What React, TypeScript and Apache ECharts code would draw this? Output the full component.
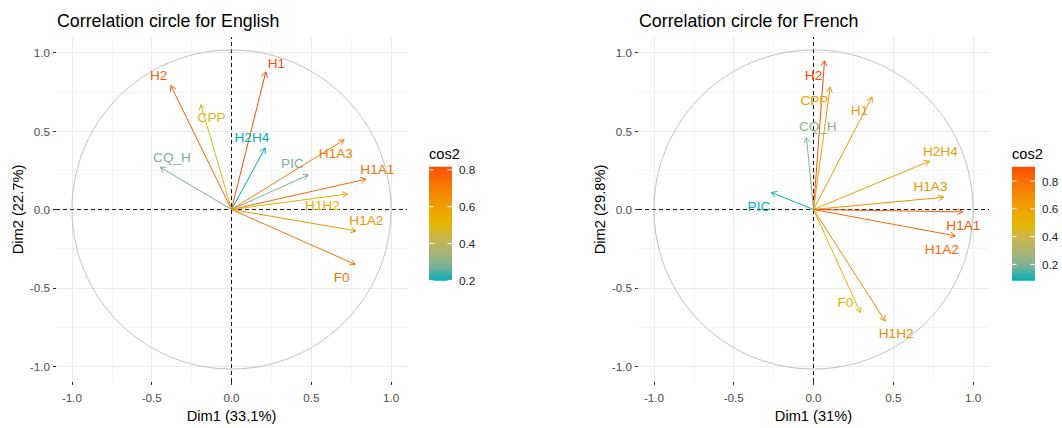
import React, { useEffect, useRef } from "react";
import * as echarts from "echarts";

// ---------- data ----------
const variables = ["H1", "H2", "CPP", "H2H4", "CQ_H", "PIC", "H1A3", "H1A1", "H1H2", "H1A2", "F0"];

// English: coordinates on Dim1 / Dim2
const enDim1 = [0.215, -0.38, -0.192, 0.211, -0.447, 0.481, 0.706, 0.842, 0.727, 0.78, 0.775];
const enDim2 = [0.878, 0.79, 0.669, 0.392, 0.27, 0.22, 0.444, 0.193, 0.099, -0.136, -0.35];
// English: label anchor (data units, as repelled in the picture)
const enLabelX = [0.282, -0.457, -0.125, 0.128, -0.373, 0.382, 0.654, 0.914, 0.57, 0.845, 0.691];
const enLabelY = [0.931, 0.852, 0.588, 0.456, 0.333, 0.291, 0.358, 0.254, 0.025, -0.073, -0.434];

// French: coordinates on Dim1 / Dim2
const frDim1 = [0.367, 0.069, 0.104, 0.727, -0.044, -0.265, 0.816, 0.935, 0.449, 0.889, 0.294];
const frDim2 = [0.717, 0.948, 0.78, 0.308, 0.459, 0.109, 0.078, -0.015, -0.711, -0.168, -0.658];
const frLabelX = [0.288, 0.0, 0.006, 0.795, 0.027, -0.342, 0.733, 0.939, 0.518, 0.804, 0.2];
const frLabelY = [0.633, 0.857, 0.696, 0.367, 0.532, 0.019, 0.145, -0.099, -0.79, -0.252, -0.591];

const titles = ["Correlation circle for English", "Correlation circle for French"];
const dim1Names = ["Dim1 (33.1%)", "Dim1 (31%)"];
const dim2Names = ["Dim2 (22.7%)", "Dim2 (29.8%)"];
const majorBreaks = [-1, -0.5, 0, 0.5, 1];
const minorBreaks = [-0.75, -0.25, 0.25, 0.75];
const legendTicks = [0.2, 0.4, 0.6, 0.8];

// ---------- styles ----------
const FONT = "'Liberation Sans', Arial, Helvetica, sans-serif";
const gradientColors = [
  "#00AFBB", "#7BB198", "#A8B474", "#CAB64D", "#E7B800",
  "#EEA200", "#F48A01", "#F86F04", "#FC4E07",
];

type Panel = {
  gridLeft: number;
  titleLeft: number;
  legendLeft: number;
  dim1: number[];
  dim2: number[];
  lx: number[];
  ly: number[];
};

const panels: Panel[] = [
  { gridLeft: 56, titleLeft: 57, legendLeft: 429, dim1: enDim1, dim2: enDim2, lx: enLabelX, ly: enLabelY },
  { gridLeft: 638, titleLeft: 639, legendLeft: 1012, dim1: frDim1, dim2: frDim2, lx: frLabelX, ly: frLabelY },
];

const GRID_TOP = 37;
const GRID_SIZE = 351;
const LEGEND_TOP = 166.7;
const LEGEND_H = 114;
const LEGEND_W = 23;

function buildOption() {
  const grid: any[] = [];
  const xAxis: any[] = [];
  const yAxis: any[] = [];
  const series: any[] = [];
  const visualMap: any[] = [];
  const title: any[] = [];
  const graphic: any[] = [];

  panels.forEach((p, i) => {
    grid.push({ left: p.gridLeft, top: GRID_TOP, width: GRID_SIZE, height: GRID_SIZE, containLabel: false });

    const axisCommon = {
      type: "value",
      gridIndex: i,
      min: -1.1,
      max: 1.1,
      splitLine: { show: false },
      axisLine: { show: false, onZero: false },
      axisTick: { show: true, customValues: majorBreaks, length: 3, lineStyle: { color: "#333333", width: 1 } },
      nameLocation: "middle",
      nameTextStyle: { fontSize: 14.67, color: "#000000", fontFamily: FONT },
    };
    xAxis.push({
      ...axisCommon,
      name: dim1Names[i],
      nameGap: 26,
      axisLabel: {
        customValues: majorBreaks,
        formatter: (v: number) => v.toFixed(1),
        color: "#4D4D4D",
        fontSize: 11.7,
        fontFamily: FONT,
        margin: 9,
      },
    });
    yAxis.push({
      ...axisCommon,
      name: dim2Names[i],
      nameGap: 31,
      nameRotate: 90,
      axisLabel: {
        customValues: majorBreaks,
        formatter: (v: number) => v.toFixed(1),
        color: "#4D4D4D",
        fontSize: 11.7,
        fontFamily: FONT,
        margin: 6,
      },
    });

    const majorStyle = { color: "#EBEBEB", width: 1.1, type: "solid" };
    const minorStyle = { color: "#F1F1F1", width: 0.7, type: "solid" };
    const dashStyle = { color: "#1A1A1A", width: 1, type: [4, 3] };
    const mlData: any[] = [];
    minorBreaks.forEach((v) => {
      mlData.push({ xAxis: v, lineStyle: minorStyle });
      mlData.push({ yAxis: v, lineStyle: minorStyle });
    });
    majorBreaks.forEach((v) => {
      mlData.push({ xAxis: v, lineStyle: majorStyle });
      mlData.push({ yAxis: v, lineStyle: majorStyle });
    });
    mlData.push({ xAxis: 0, lineStyle: dashStyle });
    mlData.push({ yAxis: 0, lineStyle: dashStyle });

    // background grid + reference dashed lines
    series.push({
      type: "scatter",
      xAxisIndex: i,
      yAxisIndex: i,
      data: [],
      silent: true,
      markLine: {
        silent: true,
        symbol: ["none", "none"],
        label: { show: false },
        emphasis: { disabled: true },
        animation: false,
        data: mlData,
      },
    });

    // unit circle
    series.push({
      type: "custom",
      xAxisIndex: i,
      yAxisIndex: i,
      silent: true,
      z: 8,
      data: [[0, 0]],
      renderItem: (_params: any, api: any) => {
        const c = api.coord([0, 0]);
        const r = api.size([1, 0])[0];
        return {
          type: "circle",
          shape: { cx: c[0], cy: c[1], r },
          style: { fill: "none", stroke: "#B3B3B3", lineWidth: 0.8 },
        };
      },
    });

    const rows = p.dim1.map((x, k) => {
      const y = p.dim2[k];
      return [x, y, x * x + y * y, p.lx[k], p.ly[k]];
    });
    const cos2 = rows.map((r) => r[2]);
    const cmin = Math.min(...cos2);
    const cmax = Math.max(...cos2);
    const arrowsIndex = series.length;

    series.push({
      type: "custom",
      xAxisIndex: i,
      yAxisIndex: i,
      silent: true,
      z: 10,
      dimensions: ["dim1", "dim2", "cos2", "lx", "ly"],
      encode: { x: 0, y: 1 },
      data: rows,
      renderItem: (params: any, api: any) => {
        const o = api.coord([0, 0]);
        const t = api.coord([api.value(0), api.value(1)]);
        const lp = api.coord([api.value(3), api.value(4)]);
        const color = api.visual("color");
        const ang = Math.atan2(t[1] - o[1], t[0] - o[0]);
        const L = 6;
        const a = Math.PI / 6;
        const h1 = [t[0] - L * Math.cos(ang - a), t[1] - L * Math.sin(ang - a)];
        const h2 = [t[0] - L * Math.cos(ang + a), t[1] - L * Math.sin(ang + a)];
        return {
          type: "group",
          children: [
            { type: "line", shape: { x1: o[0], y1: o[1], x2: t[0], y2: t[1] }, style: { stroke: color, lineWidth: 1 } },
            { type: "polyline", shape: { points: [h1, t, h2] }, style: { stroke: color, fill: "none", lineWidth: 1 } },
            {
              type: "text",
              x: lp[0],
              y: lp[1],
              style: {
                text: variables[params.dataIndex],
                fill: color,
                fontSize: 13.6,
                fontFamily: FONT,
                align: "center",
                verticalAlign: "middle",
              },
            },
          ],
        };
      },
    });

    visualMap.push({
      type: "continuous",
      show: false,
      seriesIndex: arrowsIndex,
      dimension: 2,
      min: cmin,
      max: cmax,
      inRange: { color: gradientColors },
    });

    title.push({
      text: titles[i],
      left: p.titleLeft,
      top: 12,
      padding: 0,
      textStyle: { fontSize: 17.8, fontWeight: "normal", color: "#000000", fontFamily: FONT },
    });

    // colour bar legend
    const stops = gradientColors
      .slice()
      .reverse()
      .map((c, k) => ({ offset: k / (gradientColors.length - 1), color: c }));
    graphic.push({
      type: "text",
      left: p.legendLeft,
      top: LEGEND_TOP - 20,
      style: { text: "cos2", fontSize: 14.67, fill: "#000000", fontFamily: FONT },
    });
    graphic.push({
      type: "rect",
      shape: { x: p.legendLeft, y: LEGEND_TOP, width: LEGEND_W, height: LEGEND_H },
      style: { fill: new echarts.graphic.LinearGradient(0, 0, 0, 1, stops) },
    });
    legendTicks.forEach((v) => {
      const yy = LEGEND_TOP + LEGEND_H - ((v - cmin) / (cmax - cmin)) * LEGEND_H;
      const tl = LEGEND_W * 0.2;
      graphic.push({
        type: "line",
        shape: { x1: p.legendLeft, y1: yy, x2: p.legendLeft + tl, y2: yy },
        style: { stroke: "#FFFFFF", lineWidth: 1 },
      });
      graphic.push({
        type: "line",
        shape: { x1: p.legendLeft + LEGEND_W - tl, y1: yy, x2: p.legendLeft + LEGEND_W, y2: yy },
        style: { stroke: "#FFFFFF", lineWidth: 1 },
      });
      graphic.push({
        type: "text",
        x: p.legendLeft + LEGEND_W + 7,
        y: yy,
        style: {
          text: v.toFixed(1),
          fontSize: 11.7,
          fill: "#222222",
          fontFamily: FONT,
          verticalAlign: "middle",
          align: "left",
        },
      });
    });
  });

  return {
    animation: false,
    backgroundColor: "#FFFFFF",
    textStyle: { fontFamily: FONT },
    title,
    grid,
    xAxis,
    yAxis,
    visualMap,
    series,
    graphic,
  };
}

export default function App() {
  const ref = useRef<HTMLDivElement>(null);
  useEffect(() => {
    if (!ref.current) return;
    const chart = echarts.init(ref.current, null, { renderer: "svg" });
    chart.setOption(buildOption() as any);
    return () => chart.dispose();
  }, []);
  return (
    <div
      ref={ref}
      style={{ position: "absolute", left: 0, top: 0, width: 1062, height: 428 }}
    />
  );
}
